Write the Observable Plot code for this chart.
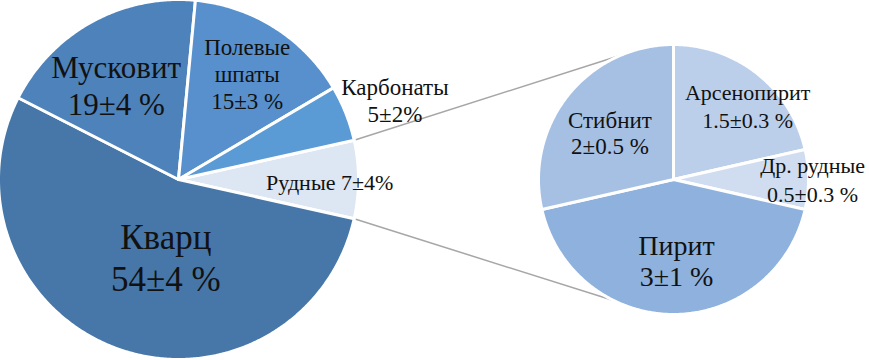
<!DOCTYPE html>
<html>
<head>
<meta charset="utf-8">
<script src="https://cdn.jsdelivr.net/npm/d3@7"></script>
<script src="https://cdn.jsdelivr.net/npm/@observablehq/plot@0.6"></script>
<style>
  html, body { margin: 0; padding: 0; background: #fff; }
  #chart { width: 869px; height: 360px; }
  #chart svg, #chart svg text, #chart svg tspan {
    font-family: "Liberation Serif", "Times New Roman", "DejaVu Serif", serif !important;
  }
</style>
</head>
<body>
<div id="chart"></div>
<script>
// ---- Data ----
const mainNames  = ["Рудные", "Кварц", "Мусковит", "Полевые шпаты", "Карбонаты"];
const mainValues = [7, 54, 19, 15, 5];
const mainLabels = ["Рудные 7±4%", "Кварц\n54±4 %", "Мусковит\n19±4 %", "Полевые\nшпаты\n15±3 %", "Карбонаты\n5±2%"];

const subNames  = ["Арсенопирит", "Др. рудные", "Пирит", "Стибнит"];
const subValues = [1.5, 0.5, 3, 2];
const subLabels = ["Арсенопирит\n1.5±0.3 %", "Др. рудные\n0.5±0.3 %", "Пирит\n3±1 %", "Стибнит\n2±0.5 %"];

// ---- Styles / layout ----
const mainColors = ["#dde6f3", "#4677a8", "#4e82bb", "#5790cc", "#5b9bd5"];
const subColors  = ["#bccfea", "#d0ddf0", "#8eb1de", "#a5c0e3"];
const mainPie = {cx: 178, cy: 179, r: 180};
const subPie  = {cx: 673, cy: 179, r: 135};
const mainLabelK  = [0.84, 0.454, 0.603, 0.697, 1.293];
const mainLabelDx = [0, 15, -10, 1.5, 0];
const mainLabelDy = [2, 0, 0, 0, 5.7];
const mainFont    = [22, 35, 31, 23, 23];
const mainLH      = [1.2, 1.2, 1.2, 1.17, 1.2];
const subLabelK   = [0.702, 1.03, 0.6, 0.555];
const subLabelDx  = [15, 0, 3, -5];
const subLabelDy  = [0, -1, 0, 0];
const subFont     = [22, 22, 28, 23];
const subLH       = [1.28, 1.3, 1.1, 1.13];
const connectorAngles = [-23 * Math.PI / 180, 206 * Math.PI / 180];

const FONT = "Liberation Serif, Times New Roman, DejaVu Serif, serif";

function slices(names, values, colors, startAngle) {
  return d3.pie().sort(null).value(d => d.value)
    .startAngle(startAngle).endAngle(startAngle + 2 * Math.PI)(
      names.map((n, i) => ({name: n, value: values[i], color: colors[i], idx: i}))
    );
}
function polarPt(pie, a, rr) {
  return [pie.cx + rr * Math.sin(a), pie.cy - rr * Math.cos(a)];
}
function arcPoints(pie, arcs, prefix) {
  const pts = [];
  for (const s of arcs) {
    const key = prefix + s.data.name;
    pts.push({x: pie.cx, y: pie.cy, key, color: s.data.color});
    const n = Math.max(2, Math.ceil((s.endAngle - s.startAngle) / (Math.PI / 360)));
    for (let i = 0; i <= n; i++) {
      const a = s.startAngle + (s.endAngle - s.startAngle) * i / n;
      const [x, y] = polarPt(pie, a, pie.r);
      pts.push({x, y, key, color: s.data.color});
    }
    pts.push({x: pie.cx, y: pie.cy, key, color: s.data.color});
  }
  return pts;
}

const mainStart = Math.PI / 2 - Math.PI * mainValues[0] / d3.sum(mainValues);
const mainArcs = slices(mainNames, mainValues, mainColors, mainStart);
const subArcs = slices(subNames, subValues, subColors, 0);

const mainPts = arcPoints(mainPie, mainArcs, "m:");
const subPts = arcPoints(subPie, subArcs, "s:");

// connectors from the split slice edges to the secondary pie
const ore = mainArcs[0];
const c1a = polarPt(mainPie, ore.startAngle, mainPie.r);
const c2a = polarPt(mainPie, ore.endAngle, mainPie.r);
const c1b = polarPt(subPie, connectorAngles[0], subPie.r);
const c2b = polarPt(subPie, connectorAngles[1], subPie.r);
const connectors = [
  {x: c1a[0], y: c1a[1], k: 1}, {x: c1b[0], y: c1b[1], k: 1},
  {x: c2a[0], y: c2a[1], k: 2}, {x: c2b[0], y: c2b[1], k: 2}
];

function labelMarks(pie, arcs, labels, K, DX, DY, F, LH) {
  return arcs.map((s, i) => {
    const mid = (s.startAngle + s.endAngle) / 2;
    const [x, y] = polarPt(pie, mid, pie.r * K[i]);
    return Plot.text([{x: x + DX[i], y: y + DY[i], t: labels[i]}], {
      x: "x", y: "y", text: "t",
      fontSize: F[i], lineHeight: LH[i], fontFamily: FONT,
      fill: "#111", textAnchor: "middle", lineAnchor: "middle"
    });
  });
}

const chart = Plot.plot({
  width: 869,
  height: 360,
  margin: 0,
  style: {background: "#fff", fontFamily: FONT},
  x: {domain: [0, 869], range: [0, 869], axis: null},
  y: {domain: [0, 360], range: [0, 360], axis: null},
  color: {type: "identity"},
  marks: [
    Plot.line(connectors, {x: "x", y: "y", z: "k", stroke: "#a6a6a6", strokeWidth: 1.5}),
    Plot.line(mainPts, {x: "x", y: "y", z: "key", fill: "color", stroke: "#fff", strokeWidth: 3, strokeLinejoin: "round", curve: "linear"}),
    Plot.line(subPts, {x: "x", y: "y", z: "key", fill: "color", stroke: "#fff", strokeWidth: 3, strokeLinejoin: "round", curve: "linear"}),
    ...labelMarks(mainPie, mainArcs, mainLabels, mainLabelK, mainLabelDx, mainLabelDy, mainFont, mainLH),
    ...labelMarks(subPie, subArcs, subLabels, subLabelK, subLabelDx, subLabelDy, subFont, subLH)
  ]
});
document.getElementById("chart").appendChild(chart);
</script>
</body>
</html>
